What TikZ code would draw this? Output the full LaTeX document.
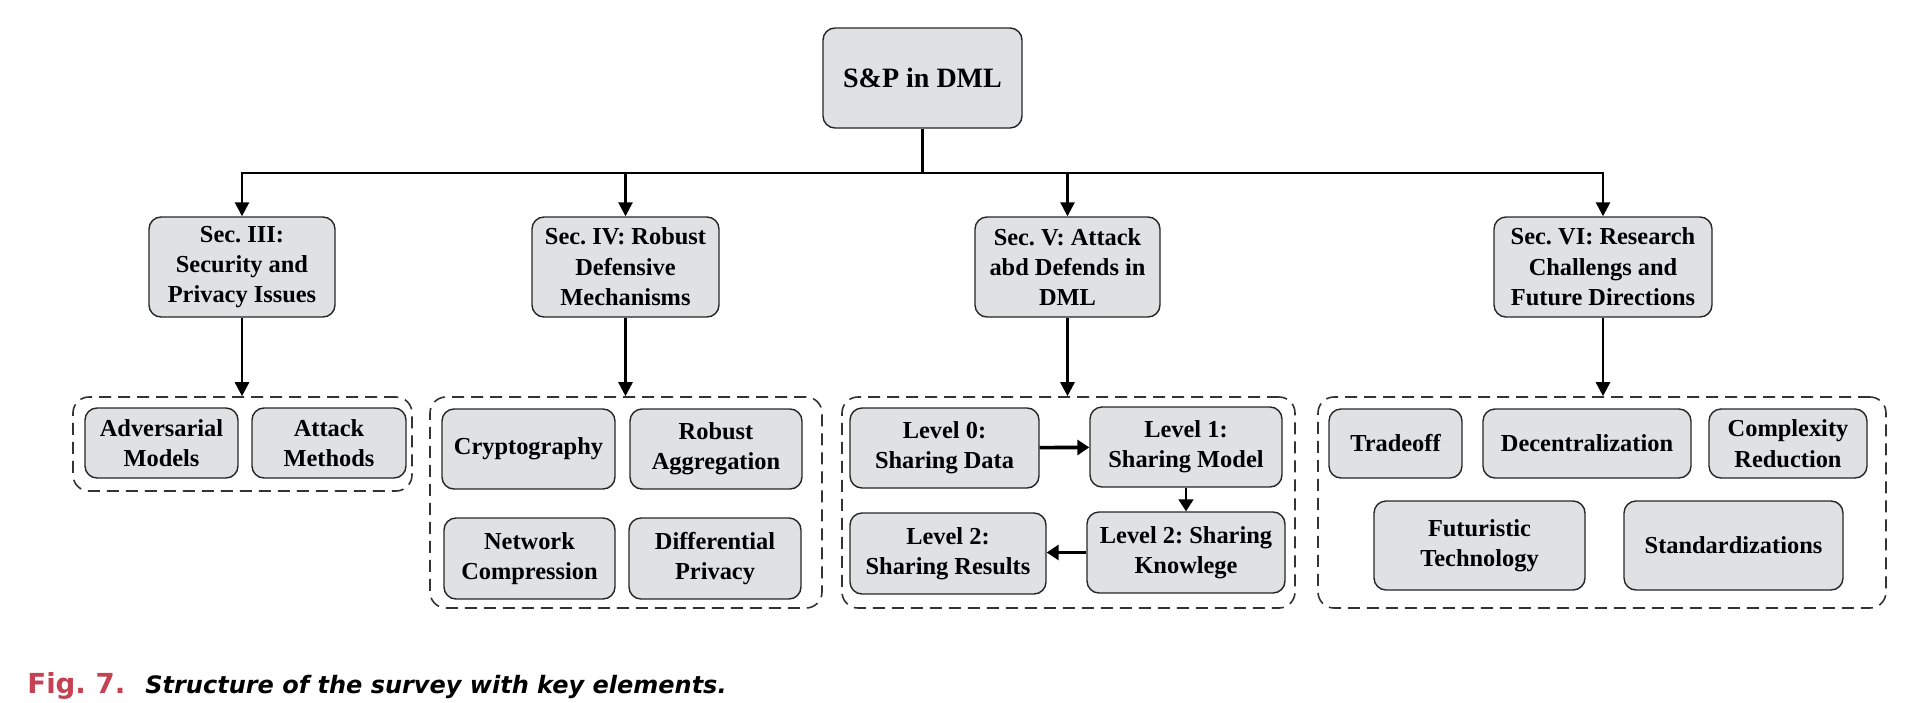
\documentclass[tikz,border=0pt]{standalone}
\usepackage{fontspec}
\setmainfont{Liberation Serif}
\newfontfamily\capfont{DejaVu Sans}
\usetikzlibrary{arrows.meta}
\definecolor{BoxGray}{RGB}{223,225,227}
\definecolor{FigRed}{RGB}{196,66,82}
\frenchspacing

\begin{document}
\begin{tikzpicture}[x=0.5pt,y=0.5pt,yscale=-1,xscale=1,
	box/.style={draw=black!85, fill=BoxGray, rounded corners=6pt, line width=0.7pt, inner sep=0pt, align=center, font=\bfseries\fontsize{12.2}{15.2}\selectfont},
	grp/.style={draw=black!80, dash pattern=on 6pt off 3.5pt, rounded corners=8pt, line width=0.8pt, inner sep=0pt},
	link/.style={line width=1.3pt, -{Triangle[length=7pt,width=7pt]}},
	flow/.style={line width=1.8pt, -{Triangle[length=6pt,width=7.5pt]}}]
	\useasboundingbox (0,0) rectangle (1929,702);

	% Root of the survey
	\node[box, font=\bfseries\fontsize{14}{16}\selectfont, minimum width=99.5pt, minimum height=50pt] (root) at (922.5,78) {S\&P in DML};

	% The four sections
	\node[box, minimum width=93pt, minimum height=50pt] (sec3) at (242,267) {Sec. III:\\Security and\\Privacy Issues};
	\node[box, minimum width=93.5pt, minimum height=50pt] (sec4) at (625.5,267) {Sec. IV: Robust\\Defensive\\Mechanisms};
	\node[box, minimum width=92.5pt, minimum height=50pt] (sec5) at (1067.5,267) {Sec. V: Attack\\abd Defends in\\DML};
	\node[box, minimum width=109pt, minimum height=50pt] (sec6) at (1603,267) {Sec. VI: Research\\Challengs and\\Future Directions};

	% Dashed groups under the sections
	\node[grp, minimum width=169.5pt, minimum height=47pt] (grp3) at (242.5,444) {};
	\node[grp, minimum width=196pt, minimum height=105.5pt] (grp4) at (626,502.5) {};
	\node[grp, minimum width=226.5pt, minimum height=105.5pt] (grp5) at (1068.5,502.5) {};
	\node[grp, minimum width=284pt, minimum height=105.5pt] (grp6) at (1602,502.5) {};

	% Sec. III items
	\node[box, minimum width=76.5pt, minimum height=35pt] (adv) at (161.5,443) {Adversarial\\Models};
	\node[box, minimum width=77pt, minimum height=35pt] (atk) at (329,443) {Attack\\Methods};

	% Sec. IV items
	\node[box, minimum width=86.5pt, minimum height=40pt] (cry) at (528.5,449) {Cryptography};
	\node[box, minimum width=86pt, minimum height=40pt] (rob) at (716,449) {Robust\\Aggregation};
	\node[box, minimum width=85.5pt, minimum height=40.5pt] (net) at (529.5,558.5) {Network\\Compression};
	\node[box, minimum width=86pt, minimum height=40.5pt] (dif) at (715,558.5) {Differential\\Privacy};

	% Sec. V items
	\node[box, minimum width=94.5pt, minimum height=40pt] (lvz) at (944.5,448) {Level 0:\\Sharing Data};
	\node[box, minimum width=96pt, minimum height=40pt] (lvo) at (1186,447) {Level 1:\\Sharing Model};
	\node[box, minimum width=98pt, minimum height=40.5pt] (lvr) at (948,553.5) {Level 2:\\Sharing Results};
	\node[box, minimum width=99pt, minimum height=40.5pt] (lvk) at (1186,552.5) {Level 2: Sharing\\Knowlege};

	% Sec. VI items
	\node[box, minimum width=66.5pt, minimum height=34.5pt] (tra) at (1395.5,443.5) {Tradeoff};
	\node[box, minimum width=104pt, minimum height=34.5pt] (dec) at (1587,443.5) {Decentralization};
	\node[box, minimum width=79pt, minimum height=34.5pt] (cpx) at (1788,443.5) {Complexity\\Reduction};
	\node[box, minimum width=105.5pt, minimum height=44.5pt] (fut) at (1479.5,545.5) {Futuristic\\Technology};
	\node[box, minimum width=109.5pt, minimum height=44.5pt] (std) at (1733.5,545.5) {Standardizations};

	% Tree connectors
	\coordinate (bus) at (922.5,173);
	\draw[line width=1.4pt] (root.south) -- (bus);
	\draw[link] (bus) -| (sec3.north);
	\draw[link] (bus) -| (sec4.north);
	\draw[link] (bus) -| (sec5.north);
	\draw[link] (bus) -| (sec6.north);
	\draw[link] (sec3.south) -- (sec3.south |- grp3.north);
	\draw[link] (sec4.south) -- (sec4.south |- grp4.north);
	\draw[link] (sec5.south) -- (sec5.south |- grp5.north);
	\draw[link] (sec6.south) -- (sec6.south |- grp6.north);

	% Level flow
	\draw[flow] (lvz) -- (lvo);
	\draw[flow, line width=0.9pt] (lvo) -- (lvk);
	\draw[flow] (lvk.west) -- (lvk.west -| lvr.east);

	% Caption
	\node[anchor=base west, inner sep=0pt, text=FigRed, font=\capfont\bfseries\fontsize{13.8}{16}\selectfont] (fignum) at (27,693) {Fig. 7.};
	\node[anchor=base west, inner sep=0pt, font=\capfont\bfseries\itshape\fontsize{12}{14}\selectfont] (figtext) at (145,693) {Structure of the survey with key elements.};
\end{tikzpicture}
\end{document}
